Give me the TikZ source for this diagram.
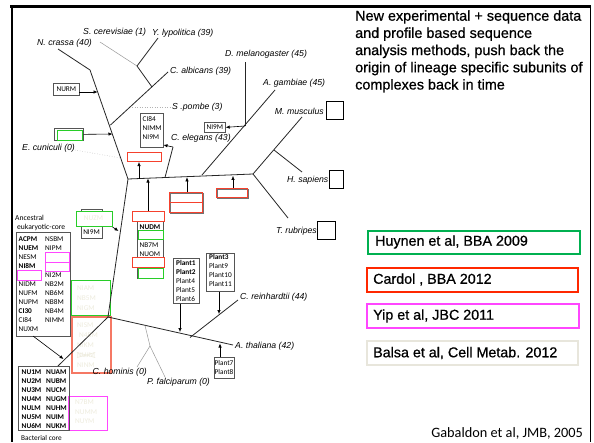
\documentclass[tikz,border=0pt]{standalone}
\usepackage{fontspec}
\setmainfont{Liberation Sans}
\newfontfamily\calfont{Carlito}
\newfontfamily\heavyfont[FakeBold=0.7]{Liberation Sans}
\usetikzlibrary{arrows.meta}
\definecolor{lgreen}{RGB}{0,176,80}
\definecolor{bgreen}{RGB}{40,205,40}
\definecolor{lred}{RGB}{255,40,0}
\definecolor{bred}{RGB}{245,65,45}
\definecolor{lightred}{RGB}{245,120,100}
\definecolor{mag}{RGB}{255,70,255}
\definecolor{pale}{RGB}{238,236,222}
\definecolor{paleborder}{RGB}{232,230,220}
\definecolor{boxgray}{RGB}{85,85,85}
\begin{document}
\begin{tikzpicture}[x=1pt,y=-1pt,
  br/.style={line width=0.8pt,draw=black!85},
  lossl/.style={line width=0.5pt,draw=black!40},
  lossd/.style={line width=0.5pt,draw=black!30,dotted},
  arr/.style={line width=0.6pt,-{Latex[length=4pt,width=3.4pt]}},
  sp/.style={font=\fontsize{8.7}{9}\selectfont\itshape,inner sep=0pt},
  cb/.style={font=\calfont\fontsize{7.3}{8}\selectfont,inner sep=0pt},
  cbb/.style={font=\calfont\bfseries\fontsize{7.3}{8}\selectfont,inner sep=0pt},
  cl/.style={font=\calfont\fontsize{7.3}{8}\selectfont,inner sep=0pt,text=pale},
  gbox/.style={draw=boxgray,line width=0.7pt,inner sep=0pt,anchor=north west},
  grbox/.style={draw=bgreen,line width=1pt,inner sep=0pt,anchor=north west},
  rdbox/.style={draw=bred,line width=1pt,inner sep=0pt,anchor=north west},
  shbox/.style={draw=black!55,line width=1pt,inner sep=0pt,anchor=north west},
  mgbox/.style={draw=mag,line width=1pt,inner sep=0pt,anchor=north west},
  legtxt/.style={font=\heavyfont\fontsize{14.3}{16}\selectfont,inner sep=0pt,anchor=west},
  ttl/.style={font=\heavyfont\fontsize{14.4}{16}\selectfont,inner sep=0pt,anchor=base west}
]
\useasboundingbox (0,0) rectangle (594,442);
\fill[white] (0,0) rectangle (594,442);
% frame
\draw[line width=3pt] (10,6.5) -- (591,6.5);
\draw[line width=2pt] (11.5,6) -- (11.5,442);
\draw[line width=1pt] (590.5,6) -- (590.5,442);

% title
\node[ttl] (t1) at (355,20.7) {New experimental + sequence data};
\node[ttl] (t2) at (355,37.9) {and profile based sequence};
\node[ttl] (t3) at (355,55.1) {analysis methods, push back the};
\node[ttl] (t4) at (355,72.3) {origin of lineage specific subunits of};
\node[ttl] (t5) at (355,89.5) {complexes back in time};

% legend
\node[draw=lgreen,line width=1.6pt,minimum width=212pt,minimum height=23pt,anchor=north west,inner sep=0pt] (lg1) at (367,230) {};
\node[legtxt] (lt1) at (375,242) {Huynen et al, BBA 2009};
\node[draw=lred,line width=1.6pt,minimum width=211pt,minimum height=24pt,anchor=north west,inner sep=0pt] (lg2) at (366,267) {};
\node[legtxt] (lt2) at (373,279.5) {Cardol , BBA 2012};
\node[draw=mag,line width=1.6pt,minimum width=212pt,minimum height=24pt,anchor=north west,inner sep=0pt] (lg3) at (366,303) {};
\node[legtxt] (lt3) at (373,316) {Yip et al, JBC 2011};
\node[draw=paleborder,line width=1.6pt,minimum width=211pt,minimum height=24pt,anchor=north west,inner sep=0pt] (lg4) at (366,340) {};
\node[legtxt] (lt4) at (373,353) {Balsa et al, Cell Metab. 2012};
\node[font=\calfont\fontsize{14.3}{16}\selectfont,inner sep=0pt,anchor=east] (gab) at (583,433) {Gabaldon et al, JMB, 2005};

% ---- tree coordinates
\coordinate (ncr) at (58,49);
\coordinate (b1) at (90,70);
\coordinate (j1) at (128,179);
\coordinate (root) at (108,317);
\coordinate (bac) at (58,366);
\coordinate (scer) at (100,42);
\coordinate (ylip) at (158,38);
\coordinate (jy) at (137,66);
\coordinate (jalb) at (152,87);
\coordinate (calb) at (168,72);
\coordinate (salb) at (110.5,125);
\coordinate (jpom) at (132,107);
\coordinate (cele) at (173,147);
\coordinate (jele) at (165,177.5);
\coordinate (j2) at (253,174);
\coordinate (jgam) at (202,175);
\coordinate (agam) at (275,90);
\coordinate (dmel) at (245,62);
\coordinate (jdm) at (245,126);
\coordinate (mmus) at (302,117);
\coordinate (jmh) at (274,150);
\coordinate (hsap) at (302,172);
\coordinate (trub) at (288,218);
\coordinate (atha) at (233,345);
\coordinate (crei) at (238,300);
\coordinate (jcr) at (190,337.5);
\coordinate (sch) at (145,325.5);
\coordinate (jch) at (150,346);
\coordinate (chom) at (137,367);
\coordinate (pfal) at (165,377);
\coordinate (pome) at (171,107);
\coordinate (ecue) at (75,150);
\coordinate (ecus) at (120.5,158);

% light (faint) boxes behind tree
\node[grbox,minimum width=39pt,minimum height=35pt] (gl) at (71,280) {};
\node[cl,anchor=west] (gl1) at (77,288) {NIAM};
\node[cl,anchor=west] (gl2) at (77,298) {NB5M};
\node[cl,anchor=west] (gl3) at (77,308) {NIGM};
\node[draw=lightred,line width=1.5pt,inner sep=0pt,anchor=north west,minimum width=39pt,minimum height=56pt] (rl) at (71,316) {};
\node[cl,anchor=west] (rl1) at (77,325) {NISM};
\node[cl,anchor=west] (rl2) at (79,335) {N4BM};
\node[cl,anchor=west] (rl3) at (77,345) {NIKM};
\node[cl,anchor=west] (rl4) at (77,355) {NUJM};
\node[cl,anchor=west] (rl5) at (77,365) {NINM};
\draw[pale,line width=0.6pt] (rl4.north west) -- (rl4.south east);
\draw[pale,line width=0.6pt] (rl4.south west) -- (rl4.north east);
\node[mgbox,minimum width=39pt,minimum height=34pt] (ml) at (68,396) {};
\node[cl,anchor=west] (ml1) at (75,402) {N7BM};
\node[cl,anchor=west] (ml2) at (75,412) {NUMM};
\node[cl,anchor=west] (ml3) at (75,421) {NUYM};

% ---- branches
\draw[br] (ncr) -- (b1) -- (j1) -- (root) -- (bac);
\draw[br] (j1) -- (j2);
\draw[lossl] (scer) -- (jy);
\draw[br] (ylip) -- (jy) -- (jalb);
\draw[br] (calb) -- (salb);
\draw[lossd] (jpom) -- (pome);
\draw[lossd] (ecue) -- (ecus);
\draw[br] (cele) -- (jele);
\draw[br] (agam) -- (jgam);
\draw[br] (dmel) -- (jdm);
\draw[br] (j2) -- (mmus);
\draw[br] (jmh) -- (hsap);
\draw[br] (j2) -- (trub);
\draw[br] (root) -- (atha);
\draw[br] (crei) -- (jcr);
\draw[lossl] (sch) -- (jch) -- (chom);
\draw[lossl] (jch) -- (pfal);

% species labels
\node[sp,anchor=west] (lscer) at (83,32) {S. cerevisiae (1)};
\node[sp,anchor=west] (lylip) at (152,33) {Y. lypolitica (39)};
\node[sp,anchor=west] (lncr) at (37,43) {N. crassa (40)};
\node[sp,anchor=west] (lcalb) at (170,71) {C. albicans (39)};
\node[sp,anchor=west] (lpom) at (172,107) {S .pombe (3)};
\node[sp,anchor=west] (ldmel) at (225,54) {D. melanogaster (45)};
\node[sp,anchor=west] (lagam) at (263,83) {A. gambiae (45)};
\node[sp,anchor=east] (lmmus) at (324,111) {M. musculus};
\node[sp,anchor=west] (lcele) at (171,138) {C. elegans (43)};
\node[sp,anchor=west] (lecun) at (22,148.5) {E. cuniculi (0)};
\node[sp,anchor=east] (lhsap) at (328.5,180) {H. sapiens};
\node[sp,anchor=east] (ltrub) at (317,231.5) {T. rubripes};
\node[sp,anchor=west] (lcrei) at (240,297) {C. reinhardtii (44)};
\node[sp,anchor=west] (latha) at (235,346) {A. thaliana (42)};
\node[sp,anchor=east] (lchom) at (147,372.5) {C. hominis (0)};
\node[sp,anchor=west] (lpfal) at (147,382.5) {P. falciparum (0)};

% empty species boxes
\node[draw=black,line width=0.9pt,inner sep=0pt,anchor=north west,minimum width=17pt,minimum height=18pt] (bmm) at (326,101) {};
\node[draw=black,line width=0.9pt,inner sep=0pt,anchor=north west,minimum width=14pt,minimum height=18pt] (bhs) at (329,170) {};
\node[draw=black,line width=0.9pt,inner sep=0pt,anchor=north west,minimum width=18pt,minimum height=18pt] (btr) at (317,221) {};

% boxes on upper part
\node[gbox,minimum width=26pt,minimum height=12pt] (nurm) at (53,83) {};
\node[cb] (nurmt) at (nurm.center) {NURM};
\draw[arr] (79,92) -- (97.6,92);
\node[gbox,minimum width=29pt,minimum height=12pt] (gbx) at (54,128) {};
\node[grbox,minimum width=25pt,minimum height=10pt] (gbxi) at (57,130) {};
\draw[arr] (gbx.east) -- (112.5,134);
\node[gbox,minimum width=23pt,minimum height=34pt] (cel) at (140,113) {};
\node[cb,anchor=west] (cel1) at (142.5,119) {CI84};
\node[cb,anchor=west] (cel2) at (142.5,128) {NIMM};
\node[cb,anchor=west] (cel3) at (142.5,137) {NI9M};
\draw[arr] (cele) -- (163.5,145);
\node[gbox,minimum width=21pt,minimum height=10pt] (ni9a) at (204,122) {};
\node[cb] (ni9at) at (ni9a.center) {NI9M};
\draw[arr] (jdm) -- (ni9a.east);

% red boxes on the horizontal branch
\node[rdbox,minimum width=34pt,minimum height=9pt] (r1) at (127,152) {};
\draw[arr] (139,178.6) -- (r1.south -| 139,0);
\node[shbox,minimum width=33pt,minimum height=20pt] (r2s) at (170,193) {};
\node[rdbox,minimum width=33pt,minimum height=20pt] (r2) at (169,192) {};
\draw[bred,line width=1pt] (169,202) -- (202,202);
\draw[arr] (r2.north -| 187,0) -- (187,177.3);
\node[shbox,minimum width=31pt,minimum height=9pt] (r3s) at (217,189) {};
\node[rdbox,minimum width=31pt,minimum height=9pt] (r3) at (216,188) {};
\draw[arr] (r3.north -| 233,0) -- (233,175.8);

% NUDM column
\node[gbox,minimum width=26pt,minimum height=57pt] (nud) at (137,221) {};
\node[rdbox,minimum width=32pt,minimum height=10pt] (r4) at (132,211) {};
\draw[arr] (r4.north -| 148,0) -- (148,178.5);
\node[cbb] (nud1) at (150,227) {NUDM};
\node[grbox,minimum width=25pt,minimum height=9pt] (g4) at (138,230) {};
\node[cb,anchor=west] (nud2) at (139.5,245) {NB7M};
\node[cb,anchor=west] (nud3) at (139.5,254) {NUOM};
\node[rdbox,fill=white,minimum width=32pt,minimum height=10pt] (r5) at (132,257) {};
\node[grbox,minimum width=25pt,minimum height=10pt] (g5) at (138,268) {};

% plant boxes
\node[gbox,minimum width=26pt,minimum height=45pt] (pl1) at (173,258) {};
\node[cbb,anchor=west] (p1) at (176,263) {Plant1};
\node[cbb,anchor=west] (p2) at (176,272) {Plant2};
\node[cb,anchor=west] (p4) at (176,281) {Plant4};
\node[cb,anchor=west] (p5) at (176,290) {Plant5};
\node[cb,anchor=west] (p6) at (176,299) {Plant6};
\draw[arr] (pl1.south -| 180,0) -- (180,332);
\node[gbox,minimum width=28pt,minimum height=38pt] (pl3) at (206,253) {};
\node[cbb,anchor=west] (p3) at (209,257) {Plant3};
\node[cb,anchor=west] (p9) at (209,266) {Plant9};
\node[cb,anchor=west] (p10) at (209,275) {Plant10};
\node[cb,anchor=west] (p11) at (209,284) {Plant11};
\draw[arr] (pl3.south -| 219,0) -- (219,314);
\node[gbox,minimum width=20pt,minimum height=21pt] (pl7) at (214,357) {};
\node[cb] (p7) at (224,363) {Plant7};
\node[cb] (p8) at (224,372) {Plant8};
\draw[arr] (pl7.north -| 220,0) -- (220,343.5);

% NUZM box
\node[gbox,minimum width=21pt,minimum height=29pt] (nuz) at (81,209) {};
\node[grbox,fill=white,minimum width=36pt,minimum height=15pt] (gz) at (75.5,211) {};
\node[cl] (nuzt) at (93.5,218.5) {NUZM};
\node[cb] (ni9b) at (91.5,232) {NI9M};
\draw[arr] (gz.south east) -- (118.5,231);

% ancestral eukaryotic core
\node[font=\calfont\fontsize{7.6}{8}\selectfont,inner sep=0pt,anchor=west] (anc1) at (15,218) {Ancestral};
\node[font=\calfont\fontsize{7.6}{8}\selectfont,inner sep=0pt,anchor=west] (anc2) at (17,227) {eukaryotic-core};
\node[gbox,minimum width=54pt,minimum height=104pt] (anc) at (16,232) {};
\node[cbb,anchor=west] (a1) at (18.5,239) {ACPM};
\node[cb,anchor=west] (a2) at (45,239) {NSBM};
\node[cbb,anchor=west] (a3) at (18.5,248) {NUEM};
\node[cb,anchor=west] (a4) at (45,248) {NIPM};
\node[cb,anchor=west] (a5) at (18.5,257) {NESM};
\node[cbb,anchor=west] (a6) at (18.5,266) {NI8M};
\node[mgbox,minimum width=24pt,minimum height=10pt] (m1) at (45,252) {};
\node[mgbox,minimum width=24pt,minimum height=9pt] (m2) at (45,262) {};
\node[mgbox,minimum width=24pt,minimum height=10pt] (m3) at (17,270) {};
\node[cb,anchor=west] (a7) at (45,275) {NI2M};
\node[cb,anchor=west] (a8) at (18.5,284) {NIDM};
\node[cb,anchor=west] (a9) at (45,284) {NB2M};
\node[cb,anchor=west] (a10) at (18.5,293) {NUFM};
\node[cb,anchor=west] (a11) at (45,293) {NB6M};
\node[cb,anchor=west] (a12) at (18.5,302) {NUPM};
\node[cb,anchor=west] (a13) at (45,302) {NB8M};
\node[cbb,anchor=west] (a14) at (18.5,311) {CI30};
\node[cb,anchor=west] (a15) at (45,311) {NB4M};
\node[cb,anchor=west] (a16) at (18.5,320) {CI84};
\node[cb,anchor=west] (a17) at (45,320) {NIMM};
\node[cb,anchor=west] (a18) at (18.5,329) {NUXM};
\draw[arr] (33,336) -- (63.5,359);

% bacterial core
\node[gbox,minimum width=51pt,minimum height=64pt] (bc) at (18,366) {};
\node[cbb,anchor=west] (c1) at (21.5,372) {NU1M};
\node[cbb,anchor=west] (c2) at (46,372) {NUAM};
\node[cbb,anchor=west] (c3) at (21.5,381) {NU2M};
\node[cbb,anchor=west] (c4) at (46,381) {NUBM};
\node[cbb,anchor=west] (c5) at (21.5,390) {NU3M};
\node[cbb,anchor=west] (c6) at (46,390) {NUCM};
\node[cbb,anchor=west] (c7) at (21.5,399) {NU4M};
\node[cbb,anchor=west] (c8) at (46,399) {NUGM};
\node[cbb,anchor=west] (c9) at (21.5,408) {NULM};
\node[cbb,anchor=west] (c10) at (46,408) {NUHM};
\node[cbb,anchor=west] (c11) at (21.5,417) {NU5M};
\node[cbb,anchor=west] (c12) at (46,417) {NUIM};
\node[cbb,anchor=west] (c13) at (21.5,426) {NU6M};
\node[cbb,anchor=west] (c14) at (46,426) {NUKM};
\node[font=\calfont\fontsize{7.3}{8}\selectfont,inner sep=0pt,anchor=west] (bct) at (21,438) {Bacterial core};
\end{tikzpicture}
\end{document}
